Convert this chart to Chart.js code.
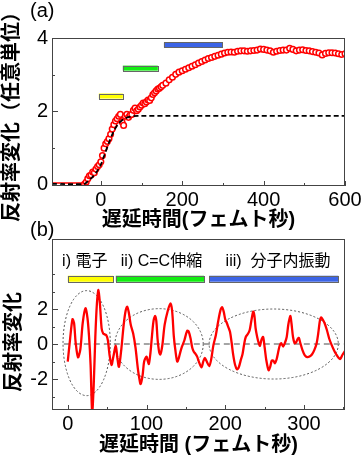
<!DOCTYPE html>
<html><head><meta charset="utf-8">
<script src="https://cdn.jsdelivr.net/npm/chart.js@4.4.1/dist/chart.umd.min.js"></script>
<style>
html,body{margin:0;padding:0;background:#fff;width:364px;height:456px;overflow:hidden;position:relative;}
canvas{position:absolute;left:0;}
#ca{top:0;} #cb{top:215px;}
</style></head><body>
<canvas id="ca" width="364" height="240"></canvas>
<canvas id="cb" width="364" height="241"></canvas>
<script>
const FONT = "'Liberation Sans', 'Noto Sans CJK JP', sans-serif";

// ---------- Panel (a) data ----------
const baseTimesA = [-120, -40];
const baseValsA = [0.05, 0.05];
const timesA = [-40,-36,-32,-28,-24,-20,-16,-12,-8,-4,0,4,8,12,16,20,24,28,32,36,40,44,48,52,56,60,64,68,72,76,80,84,88,92,96,100,104,108,112,116,120,124,128,132,136,140,144,148,152,
  160,168,176,184,192,200,208,216,224,232,240,248,256,264,272,280,288,296,304,312,320,328,336,344,352,360,368,376,384,392,400,408,416,424,432,440,448,456,464,472,480,488,496,504,512,520,528,536,544,552,560,568,576,584,592,600];
const reflA = [0.02,0.08,0.17,0.25,0.27,0.35,0.33,0.43,0.5,0.55,0.63,0.8,1.0,1.12,1.18,1.26,1.38,1.52,1.64,1.74,1.8,1.87,1.92,1.72,1.62,1.87,1.92,1.84,1.9,1.92,2.03,2.09,2.02,2.06,2.12,2.17,2.23,2.21,2.26,2.31,2.3,2.37,2.46,2.51,2.56,2.61,2.63,2.67,2.71,
  2.77,2.86,2.93,3.01,3.07,3.11,3.15,3.19,3.23,3.27,3.32,3.36,3.4,3.44,3.47,3.5,3.53,3.56,3.59,3.61,3.62,3.61,3.64,3.65,3.65,3.64,3.65,3.66,3.67,3.7,3.69,3.67,3.65,3.61,3.64,3.66,3.67,3.67,3.72,3.69,3.65,3.67,3.68,3.66,3.65,3.63,3.61,3.59,3.54,3.58,3.6,3.6,3.59,3.57,3.55,3.57];
const fitTimesA = [-120,-40,-30,-20,-10,0,10,20,30,40,50,60,70,80,90,600];
const fitValsA = [0.03,0.03,0.12,0.22,0.36,0.55,0.85,1.15,1.42,1.62,1.74,1.81,1.85,1.87,1.88,1.88];
const xTicksA = [-100,0,100,200,300,400,500,600];
const xLabelsA = [0,200,400,600];
const yTicksA = [0,1,2,3,4];
const yLabelsA = [0,2,4];
const barStartA = [-5, 54, 155];
const barEndA = [54, 140, 298];
const barYA = [2.42, 3.18, 3.81];
const barColors = ['#ffff00', '#11ee11', '#3c64e6'];

// ---------- Panel (b) data ----------
const timesB = [0,3,6,8,10,13,16,19,22.5,25,27,29,31,33,35,37,39,41,43,45,47,49,51,53,55.5,58,61,63,65,68,71,73.5,75.5,77.5,80,83,86,89,91,92.5,95,97,100,101.5,103,105,107,109,111,112.5,114,116,117.5,120,123,127,130.5,132.5,134.7,136.5,139,141,143,145,148,151.5,153.5,156,158,160,162,164.3,166,169.8,172,174,176.5,179.6,182,185,188,191,194,196,198,200,202,204,206,208,210,212.5,215,217,219.5,222,224,226,229,231,233,235.5,237,238.5,240.5,242.5,244,246,248,250,252,255,257,259,261,263,265,267,269,271,273.5,276,278,280,282.5,284,286,288,290,292,293.5,295,298,301,304,307,310,313,316,318,320,321.5,323,326,329,332,335,338,341,344,346,349,352];
const reflB = [-1.0,0.3,1.42,1.2,0.1,-0.76,-0.3,1.2,2.04,1.5,0.45,-1.2,-3.9,-2.3,0.4,2.3,3.09,2.2,0.9,0.6,0.55,0.5,0.2,-0.6,-1.2,-0.7,-0.1,-0.8,-1.3,-0.3,1.1,1.9,2.13,1.8,1.1,0.61,-0.2,-1.4,-2.0,-2.29,-1.8,-1.0,-0.72,-0.95,-1.14,-0.5,0.5,1.35,1.6,1.3,0.3,-0.45,-0.6,-0.1,1.09,1.9,2.32,1.9,0.42,-0.3,-1.0,-0.8,-0.45,-0.15,0.2,0.75,0.72,0.3,-0.2,-0.44,-0.55,-0.72,-0.95,-1.33,-1.0,-0.8,-1.0,-1.26,-0.9,-0.05,0.5,1.3,1.95,2.1,1.85,1.4,1.2,0.95,0.7,0.1,-0.6,-1.2,-1.45,-1.35,-0.95,-0.55,0.0,0.4,0.6,0.8,1.3,1.85,1.6,0.9,0.4,0.05,-0.1,0.25,0.4,-0.2,-0.9,-1.5,-1.3,-0.95,-0.95,-1.1,-0.9,-0.5,-0.1,0.05,-0.15,0.1,0.4,1.1,1.6,1.2,0.4,0.05,0.1,0.3,0.35,0.1,-0.35,-0.65,-0.75,-0.72,-0.6,-0.35,0.05,0.6,1.3,1.52,1.45,1.2,0.8,0.3,-0.05,-0.35,-0.6,-0.8,-0.85,-0.6,-0.4];
const zeroLineB = [-5, 352];
const xTicksB = [0,50,100,150,200,250,300,350];
const xLabelsB = [0,100,200,300];
const yTicksB = [-3,-2,-1,0,1,2,3,4];
const yLabelsB = [-2,0,2];
const barStartB = [0, 61, 179.6];
const barEndB = [57.6, 173, 343.5];
const barYB = [3.73, 3.73, 3.73];
const labelTextB = ['i) 電子', 'ii) C=C伸縮', 'iii)  分子内振動'];
const labelXB = [21.6, 119, 267];
const labelYB = [4.7, 4.7, 4.7];
const ellCx = [24, 116, 261.5];
const ellCy = [0.05, 0, 0];
const ellRx = [30, 56, 82];
const ellRy = [3.0, 2.02, 2.0];

// ---------- decoration plugin ----------
const decor = {
  id: 'decor',
  beforeDatasetsDraw(chart, args, o) {
    const ctx = chart.ctx, xs = chart.scales.x, ys = chart.scales.y;
    if (o.ell) {
      ctx.save();
      ctx.strokeStyle = '#555'; ctx.lineWidth = 1; ctx.setLineDash([2, 2]);
      o.ell.cx.forEach((cx, i) => {
        const px = xs.getPixelForValue(cx), py = ys.getPixelForValue(o.ell.cy[i]);
        const rx = Math.abs(xs.getPixelForValue(cx + o.ell.rx[i]) - px);
        const ry = Math.abs(ys.getPixelForValue(o.ell.cy[i] + o.ell.ry[i]) - py);
        ctx.beginPath(); ctx.ellipse(px, py, rx, ry, 0, 0, Math.PI * 2); ctx.stroke();
      });
      ctx.restore();
    }
  },
  afterDatasetsDraw(chart, args, o) {
    const ctx = chart.ctx, xs = chart.scales.x, ys = chart.scales.y, a = chart.chartArea;
    ctx.save();
    // bars
    o.bars.start.forEach((s, i) => {
      const x1 = xs.getPixelForValue(s), x2 = xs.getPixelForValue(o.bars.end[i]);
      const y = ys.getPixelForValue(o.bars.y[i]);
      const h = o.bars.h;
      ctx.fillStyle = o.bars.colors[i];
      ctx.fillRect(x1, y - h / 2, x2 - x1, h);
      ctx.strokeStyle = '#666'; ctx.lineWidth = 1;
      ctx.strokeRect(Math.round(x1) + 0.5, Math.round(y - h / 2) + 0.5, Math.round(x2 - x1), Math.round(h));
    });
    // labels
    if (o.labels) {
      ctx.fillStyle = '#000'; ctx.font = '16px ' + FONT; ctx.textAlign = 'center'; ctx.textBaseline = 'middle';
      o.labels.text.forEach((t, i) => ctx.fillText(t, xs.getPixelForValue(o.labels.x[i]), ys.getPixelForValue(o.labels.y[i])));
    }
    // frame
    ctx.strokeStyle = '#444'; ctx.lineWidth = 1;
    ctx.strokeRect(Math.round(a.left) + 0.5, Math.round(a.top) + 0.5, Math.round(a.right - a.left) - 1, Math.round(a.bottom - a.top) - 1);
    // inward ticks
    o.xt.forEach(v => {
      const px = Math.round(xs.getPixelForValue(v)) + 0.5, len = o.xl.includes(v) ? 5 : 3;
      ctx.beginPath(); ctx.moveTo(px, a.bottom); ctx.lineTo(px, a.bottom - len); ctx.stroke();
    });
    o.yt.forEach(v => {
      const py = Math.round(ys.getPixelForValue(v)) + 0.5, len = o.yl.includes(v) ? 6 : 3;
      ctx.beginPath(); ctx.moveTo(a.left, py); ctx.lineTo(a.left + len, py); ctx.stroke();
    });
    // panel letter
    ctx.fillStyle = '#000'; ctx.font = '20px ' + FONT; ctx.textAlign = 'left'; ctx.textBaseline = 'middle';
    ctx.fillText(o.letter.t, o.letter.x, o.letter.y);
    // manual y title
    if (o.ytitle) {
      ctx.save();
      ctx.translate(o.ytitle.x, o.ytitle.y); ctx.rotate(-Math.PI / 2);
      ctx.font = 'bold 20px ' + FONT; ctx.textAlign = 'center'; ctx.textBaseline = 'middle';
      ctx.fillText(o.ytitle.t, 0, 0);
      ctx.restore();
    }
    ctx.restore();
  }
};

function xScale(min, max, ticks, labels, h, titleText, titlePad, lh) {
  return {
    type: 'linear', min, max,
    afterBuildTicks: s => { s.ticks = ticks.map(v => ({ value: v })); },
    afterFit: s => { s.height = h; },
    ticks: { autoSkip: false, maxRotation: 0, padding: 2, color: '#000', font: { family: FONT, size: 20 },
      callback: v => labels.includes(v) ? String(v) : '' },
    grid: { display: false, drawTicks: false },
    border: { display: false },
    title: { display: true, text: titleText, color: '#000', padding: { top: 0, bottom: titlePad }, font: { family: FONT, size: 20, weight: 'bold', lineHeight: lh } }
  };
}
function yScale(min, max, ticks, labels, titleText) {
  return {
    type: 'linear', min, max,
    afterBuildTicks: s => { s.ticks = ticks.map(v => ({ value: v })); },
    afterFit: s => { s.width = 52; },
    ticks: { autoSkip: false, padding: 4, color: '#000', font: { family: FONT, size: 20 },
      callback: v => labels.includes(v) ? String(v) : '' },
    grid: { display: false, drawTicks: false },
    border: { display: false },
    title: { display: !!titleText, text: titleText || '', color: '#000', padding: 0, font: { family: FONT, size: 20, weight: 'bold', lineHeight: 1.2 } }
  };
}

const common = { responsive: false, animation: false, devicePixelRatio: 1, events: [] };

new Chart(document.getElementById('ca'), {
  type: 'line',
  data: { datasets: [
    { data: fitTimesA.map((x, i) => ({ x, y: fitValsA[i] })), borderColor: '#000', borderWidth: 1.8, borderDash: [5, 3], pointRadius: 0, tension: 0.3, fill: false },
    { data: timesA.map((x, i) => ({ x, y: reflA[i] })), showLine: false, pointRadius: 2.8, pointBorderWidth: 1.5, pointBorderColor: '#ff0000', pointBackgroundColor: '#fff' },
    { data: baseTimesA.map((x, i) => ({ x, y: baseValsA[i] })), borderColor: '#ff0000', borderWidth: 1.5, pointRadius: 0, fill: false }
  ] },
  options: { ...common,
    layout: { padding: { top: 38, right: 19, left: 0, bottom: 0 } },
    plugins: { legend: { display: false }, tooltip: { enabled: false },
      decor: { bars: { start: barStartA, end: barEndA, y: barYA, colors: barColors, h: 5 },
        xt: xTicksA, xl: xLabelsA, yt: yTicksA, yl: yLabelsA, letter: { t: '(a)', x: 30, y: 11 } } },
    scales: {
      x: xScale(-120, 600, xTicksA, xLabelsA, 54, '遅延時間(フェムト秒)', 8, 1.2),
      y: yScale(-0.03, 4, yTicksA, yLabelsA, '反射率変化（任意単位）')
    }
  },
  plugins: [decor]
});

new Chart(document.getElementById('cb'), {
  type: 'line',
  data: { datasets: [
    { data: timesB.map((x, i) => ({ x, y: reflB[i] })), borderColor: '#ff0000', borderWidth: 2.3, pointRadius: 0, tension: 0.3, fill: false },
    { data: zeroLineB.map(x => ({ x, y: 0 })), borderColor: '#888', borderWidth: 1.5, borderDash: [6, 4], pointRadius: 0, fill: false }
  ] },
  options: { ...common,
    layout: { padding: { top: 24, right: 19, left: 0, bottom: 0 } },
    plugins: { legend: { display: false }, tooltip: { enabled: false },
      decor: { bars: { start: barStartB, end: barEndB, y: barYB, colors: barColors, h: 6 },
        labels: { text: labelTextB, x: labelXB, y: labelYB },
        ell: { cx: ellCx, cy: ellCy, rx: ellRx, ry: ellRy },
        xt: xTicksB, xl: xLabelsB, yt: yTicksB, yl: yLabelsB, letter: { t: '(b)', x: 30, y: 15 },
        ytitle: { t: '反射率変化', x: 14, y: 127 } } },
    scales: {
      x: xScale(-20, 352, xTicksB, xLabelsB, 46, '遅延時間 (フェムト秒)', 0, 1.1),
      y: yScale(-3.77, 6.0, yTicksB, yLabelsB, null)
    }
  },
  plugins: [decor]
});
</script>
</body></html>
